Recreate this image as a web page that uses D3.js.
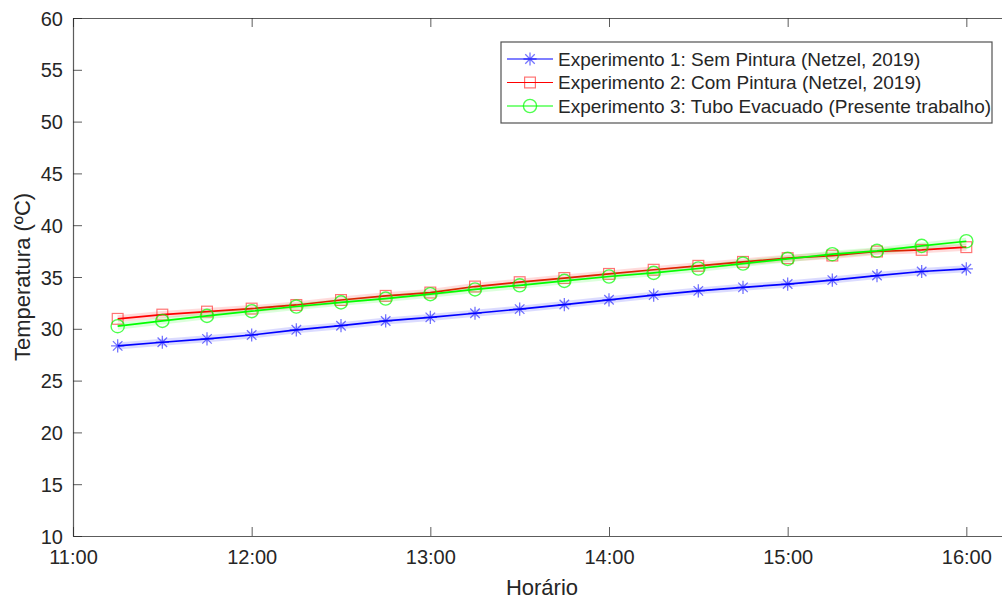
<!DOCTYPE html>
<html>
<head>
<meta charset="utf-8">
<script src="https://cdn.jsdelivr.net/npm/d3@7"></script>
<style>
  html, body { margin: 0; padding: 0; background: #fff; }
  svg { display: block; font-family: "Liberation Sans", Arial, Helvetica, sans-serif; }
</style>
</head>
<body>
<svg id="chart" width="1002" height="599"></svg>
<script>
// Measurement times (every 15 minutes)
const times = ["11:15","11:30","11:45","12:00","12:15","12:30","12:45","13:00","13:15","13:30",
               "13:45","14:00","14:15","14:30","14:45","15:00","15:15","15:30","15:45","16:00"];

// Temperatures (ºC) for each experiment
const exp1 = [28.35,28.70,29.03,29.40,29.90,30.30,30.76,31.10,31.50,31.90,
              32.34,32.80,33.25,33.66,34.00,34.32,34.70,35.14,35.53,35.79];
const exp2 = [30.96,31.37,31.66,31.95,32.30,32.78,33.18,33.50,34.08,34.50,
              34.90,35.30,35.70,36.08,36.46,36.82,37.07,37.46,37.62,37.88];
const exp3 = [30.25,30.76,31.25,31.70,32.15,32.55,32.92,33.34,33.80,34.20,
              34.63,35.05,35.40,35.82,36.30,36.75,37.20,37.53,38.00,38.45];

const seriesNames = [
  "Experimento 1: Sem Pintura (Netzel, 2019)",
  "Experimento 2: Com Pintura (Netzel, 2019)",
  "Experimento 3: Tubo Evacuado (Presente trabalho)"
];

const xTickLabels = ["11:00","12:00","13:00","14:00","15:00","16:00"];
const yTicks = [10,15,20,25,30,35,40,45,50,55,60];

const parse = d3.timeParse("%H:%M");
const fmt = d3.timeFormat("%H:%M");

const series = [
  { name: seriesNames[0], values: exp1, color: "#0000ff", marker: "star" },
  { name: seriesNames[1], values: exp2, color: "#ff0000", marker: "square" },
  { name: seriesNames[2], values: exp3, color: "#00ff00", marker: "circle" }
];

const svg = d3.select("#chart");
const plotLeft = 73, plotRight = 1011, plotTop = 18, plotBottom = 536;
const axisColor = "#262626";

const x = d3.scaleTime().domain([parse("11:00"), parse("16:15")]).range([plotLeft, plotRight]);
const y = d3.scaleLinear().domain([10, 60]).range([plotBottom, plotTop]);

// Axes (ticks point inward, box on all four sides)
const xTicks = xTickLabels.map(parse);
const gx = svg.append("g").attr("transform", `translate(0,${plotBottom})`)
  .call(d3.axisBottom(x).tickValues(xTicks).tickFormat(fmt).tickSizeInner(-9).tickSizeOuter(0).tickPadding(14));
const gxTop = svg.append("g").attr("transform", `translate(0,${plotTop})`)
  .call(d3.axisTop(x).tickValues(xTicks).tickFormat("").tickSizeInner(-9).tickSizeOuter(0));
const gy = svg.append("g").attr("transform", `translate(${plotLeft},0)`)
  .call(d3.axisLeft(y).tickValues(yTicks).tickSizeInner(-9).tickSizeOuter(0).tickPadding(10));
const gyRight = svg.append("g").attr("transform", `translate(${plotRight},0)`)
  .call(d3.axisRight(y).tickValues(yTicks).tickFormat("").tickSizeInner(-9).tickSizeOuter(0));

[gx, gxTop, gy, gyRight].forEach(g => {
  g.select(".domain").attr("stroke", axisColor).attr("stroke-opacity", 0.75).attr("stroke-width", 1.2);
  g.selectAll(".tick line").attr("stroke", axisColor).attr("stroke-opacity", 0.75);
  g.selectAll(".tick text").attr("fill", axisColor).attr("font-size", 20)
    .attr("font-family", "'Liberation Sans', Arial, sans-serif");
});
gy.selectAll(".tick text").attr("dy", "0.35em");

// Axis titles
svg.append("text")
  .attr("x", (plotLeft + plotRight) / 2).attr("y", 595)
  .attr("text-anchor", "middle").attr("font-size", 22).attr("fill", axisColor)
  .text("Horário");
svg.append("text")
  .attr("transform", `translate(30,${(plotTop + plotBottom) / 2}) rotate(-90)`)
  .attr("text-anchor", "middle").attr("font-size", 22).attr("fill", axisColor)
  .text("Temperatura (ºC)");

// Marker drawing
function drawMarker(g, type, color, cx, cy, s) {
  if (type === "star") {
    const r = s * 0.55, d = r * 0.72;
    g.append("path")
      .attr("d", `M${cx - r},${cy}L${cx + r},${cy}M${cx},${cy - r}L${cx},${cy + r}` +
                 `M${cx - d},${cy - d}L${cx + d},${cy + d}M${cx - d},${cy + d}L${cx + d},${cy - d}`)
      .attr("stroke", color).attr("stroke-opacity", 0.55).attr("stroke-width", 1.3).attr("fill", "none");
  } else if (type === "square") {
    const h = s * 0.45;
    g.append("rect").attr("x", cx - h).attr("y", cy - h).attr("width", 2 * h).attr("height", 2 * h)
      .attr("fill", "none").attr("stroke", color).attr("stroke-opacity", 0.55).attr("stroke-width", 1.2);
  } else {
    g.append("circle").attr("cx", cx).attr("cy", cy).attr("r", s * 0.55)
      .attr("fill", "none").attr("stroke", color).attr("stroke-opacity", 0.7).attr("stroke-width", 1.4);
  }
}

const line = d3.line().x(d => x(d.t)).y(d => y(d.v));
const plot = svg.append("g");

series.forEach(sr => {
  const pts = times.map((t, i) => ({ t: parse(t), v: sr.values[i] }));
  const g = plot.append("g");
  // soft halo under each line
  g.append("path").datum(pts).attr("d", line).attr("fill", "none")
    .attr("stroke", sr.color).attr("stroke-opacity", 0.14).attr("stroke-width", 7)
    .attr("stroke-linejoin", "round");
  g.append("path").datum(pts).attr("d", line).attr("fill", "none")
    .attr("stroke", sr.color).attr("stroke-width", 1.7).attr("stroke-linejoin", "round");
  pts.forEach(p => drawMarker(g, sr.marker, sr.color, x(p.t), y(p.v), 12));
});

// Legend
const lg = svg.append("g");
lg.append("rect").attr("x", 501).attr("y", 42).attr("width", 491).attr("height", 81)
  .attr("fill", "#fff").attr("stroke", axisColor).attr("stroke-opacity", 0.8).attr("stroke-width", 1.2);
series.forEach((sr, i) => {
  const cy = 59 + i * 23.5;
  lg.append("line").attr("x1", 507).attr("x2", 553).attr("y1", cy).attr("y2", cy)
    .attr("stroke", sr.color).attr("stroke-width", 1.2);
  drawMarker(lg, sr.marker, sr.color, 530, cy, 12);
  lg.append("text").attr("x", 558).attr("y", cy).attr("dy", "0.35em")
    .attr("font-size", 19).attr("fill", axisColor).text(sr.name);
});
</script>
</body>
</html>
